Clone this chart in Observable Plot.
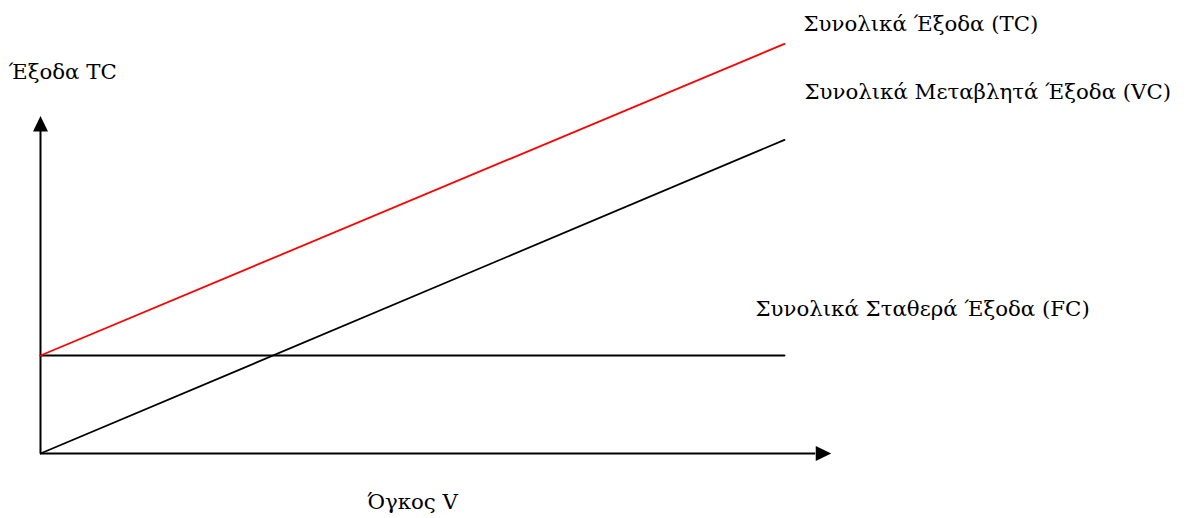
<!DOCTYPE html>
<html>
<head>
<meta charset="utf-8">
<script src="https://cdn.jsdelivr.net/npm/d3@7"></script>
<script src="https://cdn.jsdelivr.net/npm/@observablehq/plot@0.6"></script>
<style>
  html, body { margin: 0; padding: 0; background: #fff; }
  #chart { width: 1192px; height: 518px; }
</style>
</head>
<body>
<div id="chart"></div>
<script>
// Data
const volume = [0, 10];
const fixedCost = [100, 100];
const variableCost = [0, 320];
const totalCost = [100, 418];

const yAxisLabel = "Έξοδα TC";
const xAxisLabel = "Όγκος V";
const tcLabel = "Συνολικά Έξοδα (TC)";
const vcLabel = "Συνολικά Μεταβλητά Έξοδα (VC)";
const fcLabel = "Συνολικά Σταθερά Έξοδα (FC)";

// axis extents (arrow bases) in data units
const xAxisEnd = 10.42;
const yAxisEnd = 328.6;

const toRows = (vals) => volume.map((v, i) => ({x: v, y: vals[i]}));
const tcRows = toRows(totalCost);
const vcRows = toRows(variableCost);
const fcRows = toRows(fixedCost);

const triangleUp = {
  draw(context) {
    context.moveTo(0, -15.5);
    context.lineTo(7.5, 0);
    context.lineTo(-7.5, 0);
    context.closePath();
  }
};

const serif = "DejaVu Serif";
const fs = 21.3;
const label = (data, text, anchor, dx, dy) =>
  Plot.text(data, {x: "x", y: "y", text: () => text, textAnchor: anchor, dx, dy,
                   fontSize: fs, fontFamily: serif, fill: "black"});

const chart = Plot.plot({
  width: 1192,
  height: 518,
  margin: 0,
  x: {domain: [0, 10], range: [40, 784], axis: null},
  y: {domain: [0, 100], range: [453, 355], axis: null},
  marks: [
    // axes
    Plot.ruleX([0], {y1: 0, y2: yAxisEnd, stroke: "black", strokeWidth: 2}),
    Plot.ruleY([0], {x1: 0, x2: xAxisEnd, stroke: "black", strokeWidth: 2}),
    Plot.dot([{x: 0, y: yAxisEnd}], {x: "x", y: "y", symbol: triangleUp, fill: "black", stroke: "none"}),
    Plot.dot([{x: xAxisEnd, y: 0}], {x: "x", y: "y", symbol: triangleUp, rotate: 90, fill: "black", stroke: "none"}),
    // series lines
    Plot.line(fcRows, {x: "x", y: "y", stroke: "black", strokeWidth: 1.8}),
    Plot.line(vcRows, {x: "x", y: "y", stroke: "black", strokeWidth: 1.8}),
    Plot.line(tcRows, {x: "x", y: "y", stroke: "#ff0000", strokeWidth: 1.8}),
    // labels
    label([tcRows[1]], tcLabel, "start", 19, -19.9),
    label([vcRows[1]], vcLabel, "start", 20, -47.4),
    label([fcRows[1]], fcLabel, "start", -29, -45.9),
    label([{x: 0, y: yAxisEnd}], yAxisLabel, "start", -32, -59.4),
    label([{x: 5, y: 0}], xAxisLabel, "middle", 0, 49.1)
  ]
});
document.getElementById("chart").appendChild(chart);
</script>
</body>
</html>
